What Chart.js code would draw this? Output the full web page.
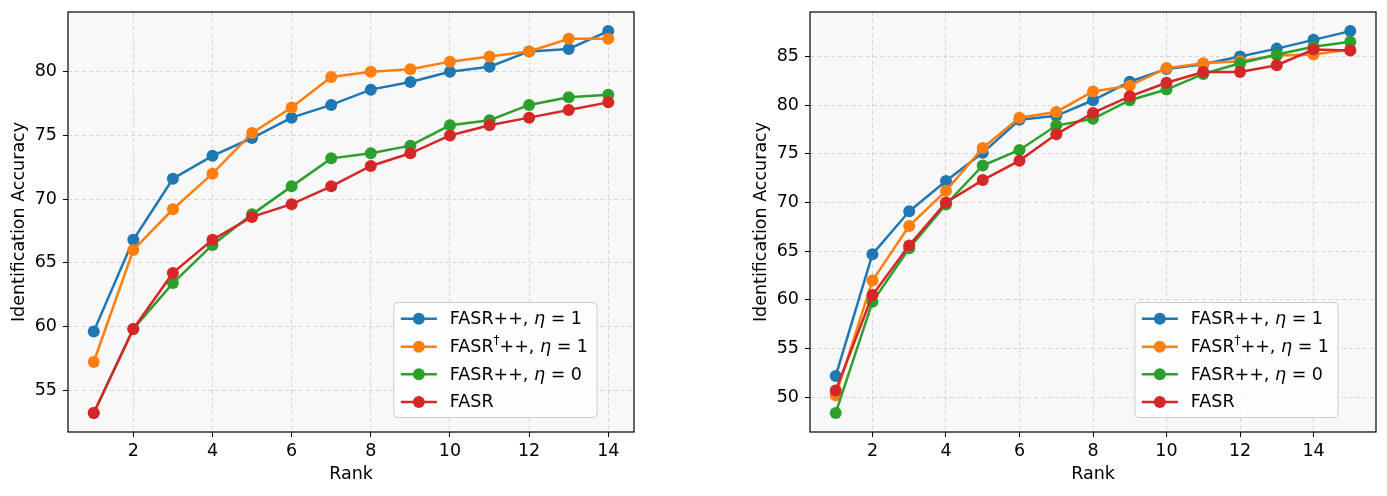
<!DOCTYPE html>
<html>
<head>
<meta charset="utf-8">
<script src="https://cdn.jsdelivr.net/npm/chart.js@4.4.1/dist/chart.umd.min.js"></script>
<style>
  html, body { margin: 0; padding: 0; background: #fff; }
  #wrap { position: relative; width: 1387px; height: 496px; }
  canvas { position: absolute; top: 0; }
  #chart-left { left: 0; }
  #chart-right { left: 693px; }
</style>
</head>
<body>
<div id="wrap">
  <canvas id="chart-left" width="693" height="496"></canvas>
  <canvas id="chart-right" width="694" height="496"></canvas>
</div>
<script>
// ── data ──
const seriesLabels = ['FASR++, η = 1', 'FASR†++, η = 1', 'FASR++, η = 0', 'FASR'];
const seriesColors = ['#1f77b4', '#ff7f0e', '#2ca02c', '#d62728'];

const ranksLeft = [1, 2, 3, 4, 5, 6, 7, 8, 9, 10, 11, 12, 13, 14];
const leftEta1     = [59.6, 66.8, 71.6, 73.4, 74.8, 76.4, 77.4, 78.6, 79.2, 80.0, 80.4, 81.6, 81.8, 83.2];
const leftDagEta1  = [57.2, 66.0, 69.2, 72.0, 75.2, 77.2, 79.6, 80.0, 80.2, 80.8, 81.2, 81.6, 82.6, 82.6];
const leftEta0     = [53.2, 59.8, 63.4, 66.4, 68.8, 71.0, 73.2, 73.6, 74.2, 75.8, 76.2, 77.4, 78.0, 78.2];
const leftFasr     = [53.2, 59.8, 64.2, 66.8, 68.6, 69.6, 71.0, 72.6, 73.6, 75.0, 75.8, 76.4, 77.0, 77.6];

const ranksRight = [1, 2, 3, 4, 5, 6, 7, 8, 9, 10, 11, 12, 13, 14, 15];
const rightEta1    = [52.2, 64.7, 69.1, 72.2, 75.1, 78.5, 78.9, 80.5, 82.4, 83.7, 84.2, 85.0, 85.8, 86.7, 87.6];
const rightDagEta1 = [50.2, 62.0, 67.6, 71.2, 75.6, 78.7, 79.3, 81.4, 82.0, 83.8, 84.3, 84.5, 85.1, 85.2, 85.7];
const rightEta0    = [48.4, 59.8, 65.3, 69.8, 73.8, 75.4, 77.9, 78.6, 80.5, 81.6, 83.2, 84.3, 85.2, 86.0, 86.5];
const rightFasr    = [50.7, 60.5, 65.6, 70.0, 72.3, 74.3, 77.0, 79.2, 80.9, 82.3, 83.4, 83.4, 84.1, 85.7, 85.6];

const xTicksLeft  = [2, 4, 6, 8, 10, 12, 14];
const xTicksRight = [2, 4, 6, 8, 10, 12, 14];
const yTicksLeft  = [55, 60, 65, 70, 75, 80];
const yTicksRight = [50, 55, 60, 65, 70, 75, 80, 85];

const xTitle = 'Rank';
const yTitle = 'Identification Accuracy';

// ── helpers ──
const FONT = '"DejaVu Sans", sans-serif';
const FS = 17.5;

// splits a label into runs: † as superscript, η italic (like mathtext)
function richRuns(text) {
  const runs = [];
  for (const ch of text) {
    let style = 'n';
    if (ch === '†') style = 's';
    else if (ch === 'η') style = 'i';
    const last = runs[runs.length - 1];
    if (last && last.style === style) last.t += ch;
    else runs.push({ t: ch, style });
  }
  return runs.map(r => ({
    t: r.t,
    font: r.style === 's' ? `12px ${FONT}` : r.style === 'i' ? `italic ${FS}px ${FONT}` : `${FS}px ${FONT}`,
    dy: r.style === 's' ? -7 : 0
  }));
}

function richWidth(ctx, text) {
  return richRuns(text).reduce((w, r) => { ctx.font = r.font; return w + ctx.measureText(r.t).width; }, 0);
}

function drawRich(ctx, text, x, y) {
  richRuns(text).forEach(r => {
    ctx.font = r.font;
    ctx.fillText(r.t, x, y + r.dy);
    x += ctx.measureText(r.t).width;
  });
}

// plot background, frame and legend box inside the axes
const framePlugin = {
  id: 'frame',
  beforeDraw(chart) {
    const { ctx, chartArea: a } = chart;
    ctx.save();
    ctx.fillStyle = '#f8f8f8';
    ctx.fillRect(a.left, a.top, a.right - a.left, a.bottom - a.top);
    ctx.restore();
  },
  afterDatasetsDraw(chart, args, opts) {
    const { ctx, chartArea: a } = chart;
    ctx.save();
    ctx.strokeStyle = '#000';
    ctx.lineWidth = 1.2;
    ctx.strokeRect(a.left, a.top, a.right - a.left, a.bottom - a.top);

    // legend
    const ds = chart.data.datasets;
    const maxW = Math.max(...ds.map(d => richWidth(ctx, d.label)));
    const w = 56 + maxW + 9, h = 115;
    const x = a.right - opts.legendRight - w;
    const y = a.bottom - opts.legendBottom - h;
    ctx.beginPath();
    ctx.roundRect(x, y, w, h, 4);
    ctx.fillStyle = 'rgba(255,255,255,0.8)';
    ctx.fill();
    ctx.strokeStyle = '#cccccc';
    ctx.lineWidth = 1;
    ctx.stroke();

    const rows = [16.3, 44.2, 71.8, 99.4];
    ds.forEach((d, i) => {
      const cy = y + rows[i];
      ctx.strokeStyle = d.borderColor;
      ctx.lineWidth = 2.5;
      ctx.beginPath();
      ctx.moveTo(x + 7, cy);
      ctx.lineTo(x + 43, cy);
      ctx.stroke();
      ctx.fillStyle = d.borderColor;
      ctx.beginPath();
      ctx.arc(x + 25, cy, 6, 0, Math.PI * 2);
      ctx.fill();
      ctx.fillStyle = '#000';
      ctx.textBaseline = 'middle';
      ctx.textAlign = 'left';
      drawRich(ctx, d.label, x + 56, cy + 1);
    });
    ctx.restore();
  }
};

function makeDatasets(xs, ys) {
  return ys.map((vals, i) => ({
    label: seriesLabels[i],
    data: vals.map((v, j) => ({ x: xs[j], y: v })),
    borderColor: seriesColors[i],
    backgroundColor: seriesColors[i],
    pointBackgroundColor: seriesColors[i],
    borderWidth: 2.5,
    pointRadius: 6,
    pointBorderWidth: 0,
    tension: 0,
    order: ys.length - i
  }));
}

function axis(min, max, ticks, title, horizontal, titlePad) {
  return {
    type: 'linear', min, max,
    afterBuildTicks: s => { s.ticks = ticks.map(v => ({ value: v })); },
    afterFit: s => {
      if (horizontal) { s.height = 64; s.paddingLeft = 0; s.paddingRight = 0; }
      else { s.width = 68; s.paddingTop = 0; s.paddingBottom = 0; }
    },
    border: { display: false, dash: [4, 3] },
    grid: {
      color: 'rgba(185,185,185,0.55)', lineWidth: 1,
      drawTicks: true, tickLength: 5, tickColor: '#000', tickWidth: 1, tickBorderDash: []
    },
    ticks: {
      color: '#000', font: { family: FONT, size: FS }, padding: horizontal ? 4 : 6,
      maxRotation: 0, autoSkip: false, callback: v => String(v)
    },
    title: {
      display: true, text: title, color: '#000',
      font: { family: FONT, size: FS }, padding: titlePad
    }
  };
}

function makeChart(id, xs, ys, xr, yr, xTicks, yTicks, padding, legendPos) {
  return new Chart(document.getElementById(id), {
    type: 'line',
    data: { datasets: makeDatasets(xs, ys) },
    options: {
      responsive: false, animation: false, events: [],
      layout: { padding },
      plugins: { legend: { display: false }, tooltip: { enabled: false }, frame: legendPos },
      scales: {
        x: axis(xr[0], xr[1], xTicks, xTitle, true, { top: 0, bottom: 11.5 }),
        y: axis(yr[0], yr[1], yTicks, yTitle, false, { top: 8.5, bottom: 0 })
      }
    },
    plugins: [framePlugin]
  });
}

makeChart('chart-left', ranksLeft, [leftEta1, leftDagEta1, leftEta0, leftFasr],
  [0.35, 14.65], [51.7, 84.7], xTicksLeft, yTicksLeft,
  { top: 12, right: 59, left: 0, bottom: 0 }, { legendRight: 37, legendBottom: 14.5 });

makeChart('chart-right', ranksRight, [rightEta1, rightDagEta1, rightEta0, rightFasr],
  [0.3, 15.7], [46.44, 89.56], xTicksRight, yTicksRight,
  { top: 12, right: 11, left: 49, bottom: 0 }, { legendRight: 38, legendBottom: 14.5 });
</script>
</body>
</html>
